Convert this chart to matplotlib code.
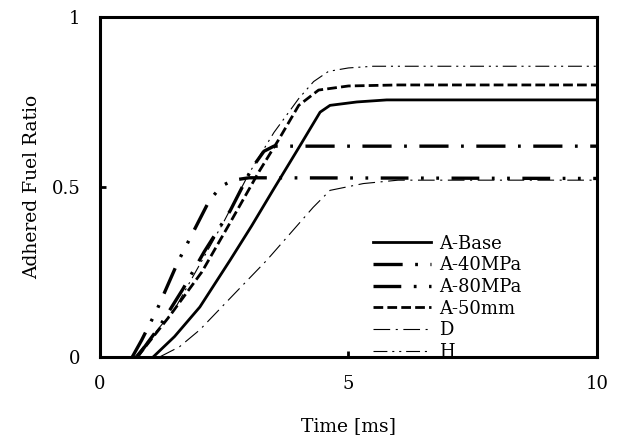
import numpy as np
import matplotlib
matplotlib.use("Agg")
import matplotlib.pyplot as plt

plt.rcParams['font.family'] = 'DejaVu Serif'
plt.rcParams['lines.scale_dashes'] = False

# time [ms] and adhered fuel ratio
base_t = [1.07, 1.5, 2.01, 2.62, 3.05, 3.48, 4.02, 4.43, 4.63, 5.17, 5.77, 10.0]
base_y = [0.0, 0.06, 0.147, 0.285, 0.385, 0.49, 0.62, 0.72, 0.74, 0.75, 0.756, 0.756]

p40_t = [0.75, 1.2, 1.67, 2.1, 2.62, 3.06, 3.3, 3.5, 10.0]
p40_y = [0.0, 0.09, 0.2, 0.31, 0.43, 0.556, 0.605, 0.62, 0.62]

p80_t = [0.65, 0.84, 1.15, 1.57, 2.2, 2.45, 2.68, 3.0, 10.0]
p80_y = [0.0, 0.05, 0.14, 0.28, 0.46, 0.503, 0.52, 0.527, 0.525]

l50_t = [0.75, 1.4, 2.05, 2.6, 3.2, 3.6, 4.0, 4.4, 5.0, 6.0, 10.0]
l50_y = [0.0, 0.12, 0.25, 0.39, 0.545, 0.64, 0.74, 0.785, 0.797, 0.80, 0.80]

d_t = [1.2, 1.6, 2.01, 2.7, 3.36, 4.29, 4.63, 5.3, 6.0, 10.0]
d_y = [0.0, 0.03, 0.08, 0.185, 0.285, 0.44, 0.49, 0.51, 0.52, 0.52]

h_t = [0.7, 1.5, 2.0, 2.5, 3.0, 3.5, 4.0, 4.3, 4.6, 5.0, 5.5, 10.0]
h_y = [0.0, 0.14, 0.27, 0.40, 0.54, 0.66, 0.76, 0.81, 0.84, 0.85, 0.855, 0.855]

fig = plt.figure(figsize=(6.23, 4.46), dpi=100)
ax = fig.add_axes([0.1605, 0.1996, 0.7975, 0.7624])

ax.plot(base_t, base_y, color='black', lw=2.0, label='A-Base')
ax.plot(p40_t, p40_y, color='black', lw=2.4, dashes=(21, 9, 2, 9), label='A-40MPa')
ax.plot(p80_t, p80_y, color='black', lw=2.4, dashes=(20, 9, 2, 9, 2, 9), label='A-80MPa')
ax.plot(l50_t, l50_y, color='black', lw=2.0, dashes=(7, 3), label='A-50mm')
ax.plot(d_t, d_y, color='black', lw=0.8, dashes=(12, 4, 1.5, 4), label='D')
ax.plot(h_t, h_y, color='black', lw=0.8, dashes=(10, 3.5, 1.5, 3.5, 1.5, 3.5), label='H')

ax.set_xlim(0, 10)
ax.set_ylim(0, 1)
ax.set_xticks([0, 5, 10])
ax.set_xticklabels(['0', '5', '10'])
ax.set_yticks([0, 0.5, 1])
ax.set_yticklabels(['0', '0.5', '1'])
ax.tick_params(axis='x', direction='in', length=4, width=2, pad=13, labelsize=13)
ax.tick_params(axis='y', direction='in', length=4, width=2, pad=14, labelsize=13)
for s in ax.spines.values():
    s.set_linewidth(2.2)

ax.set_xlabel('Time [ms]', fontsize=13.5, labelpad=17)
ax.set_ylabel('Adhered Fuel Ratio', fontsize=13.5, labelpad=8)

ax.legend(loc='center left', bbox_to_anchor=(0.55, 0.174), frameon=False,
          fontsize=13, handlelength=3.2, handletextpad=0.45, labelspacing=0.2,
          borderpad=0, borderaxespad=0)

fig.savefig('out.png', dpi=100)
